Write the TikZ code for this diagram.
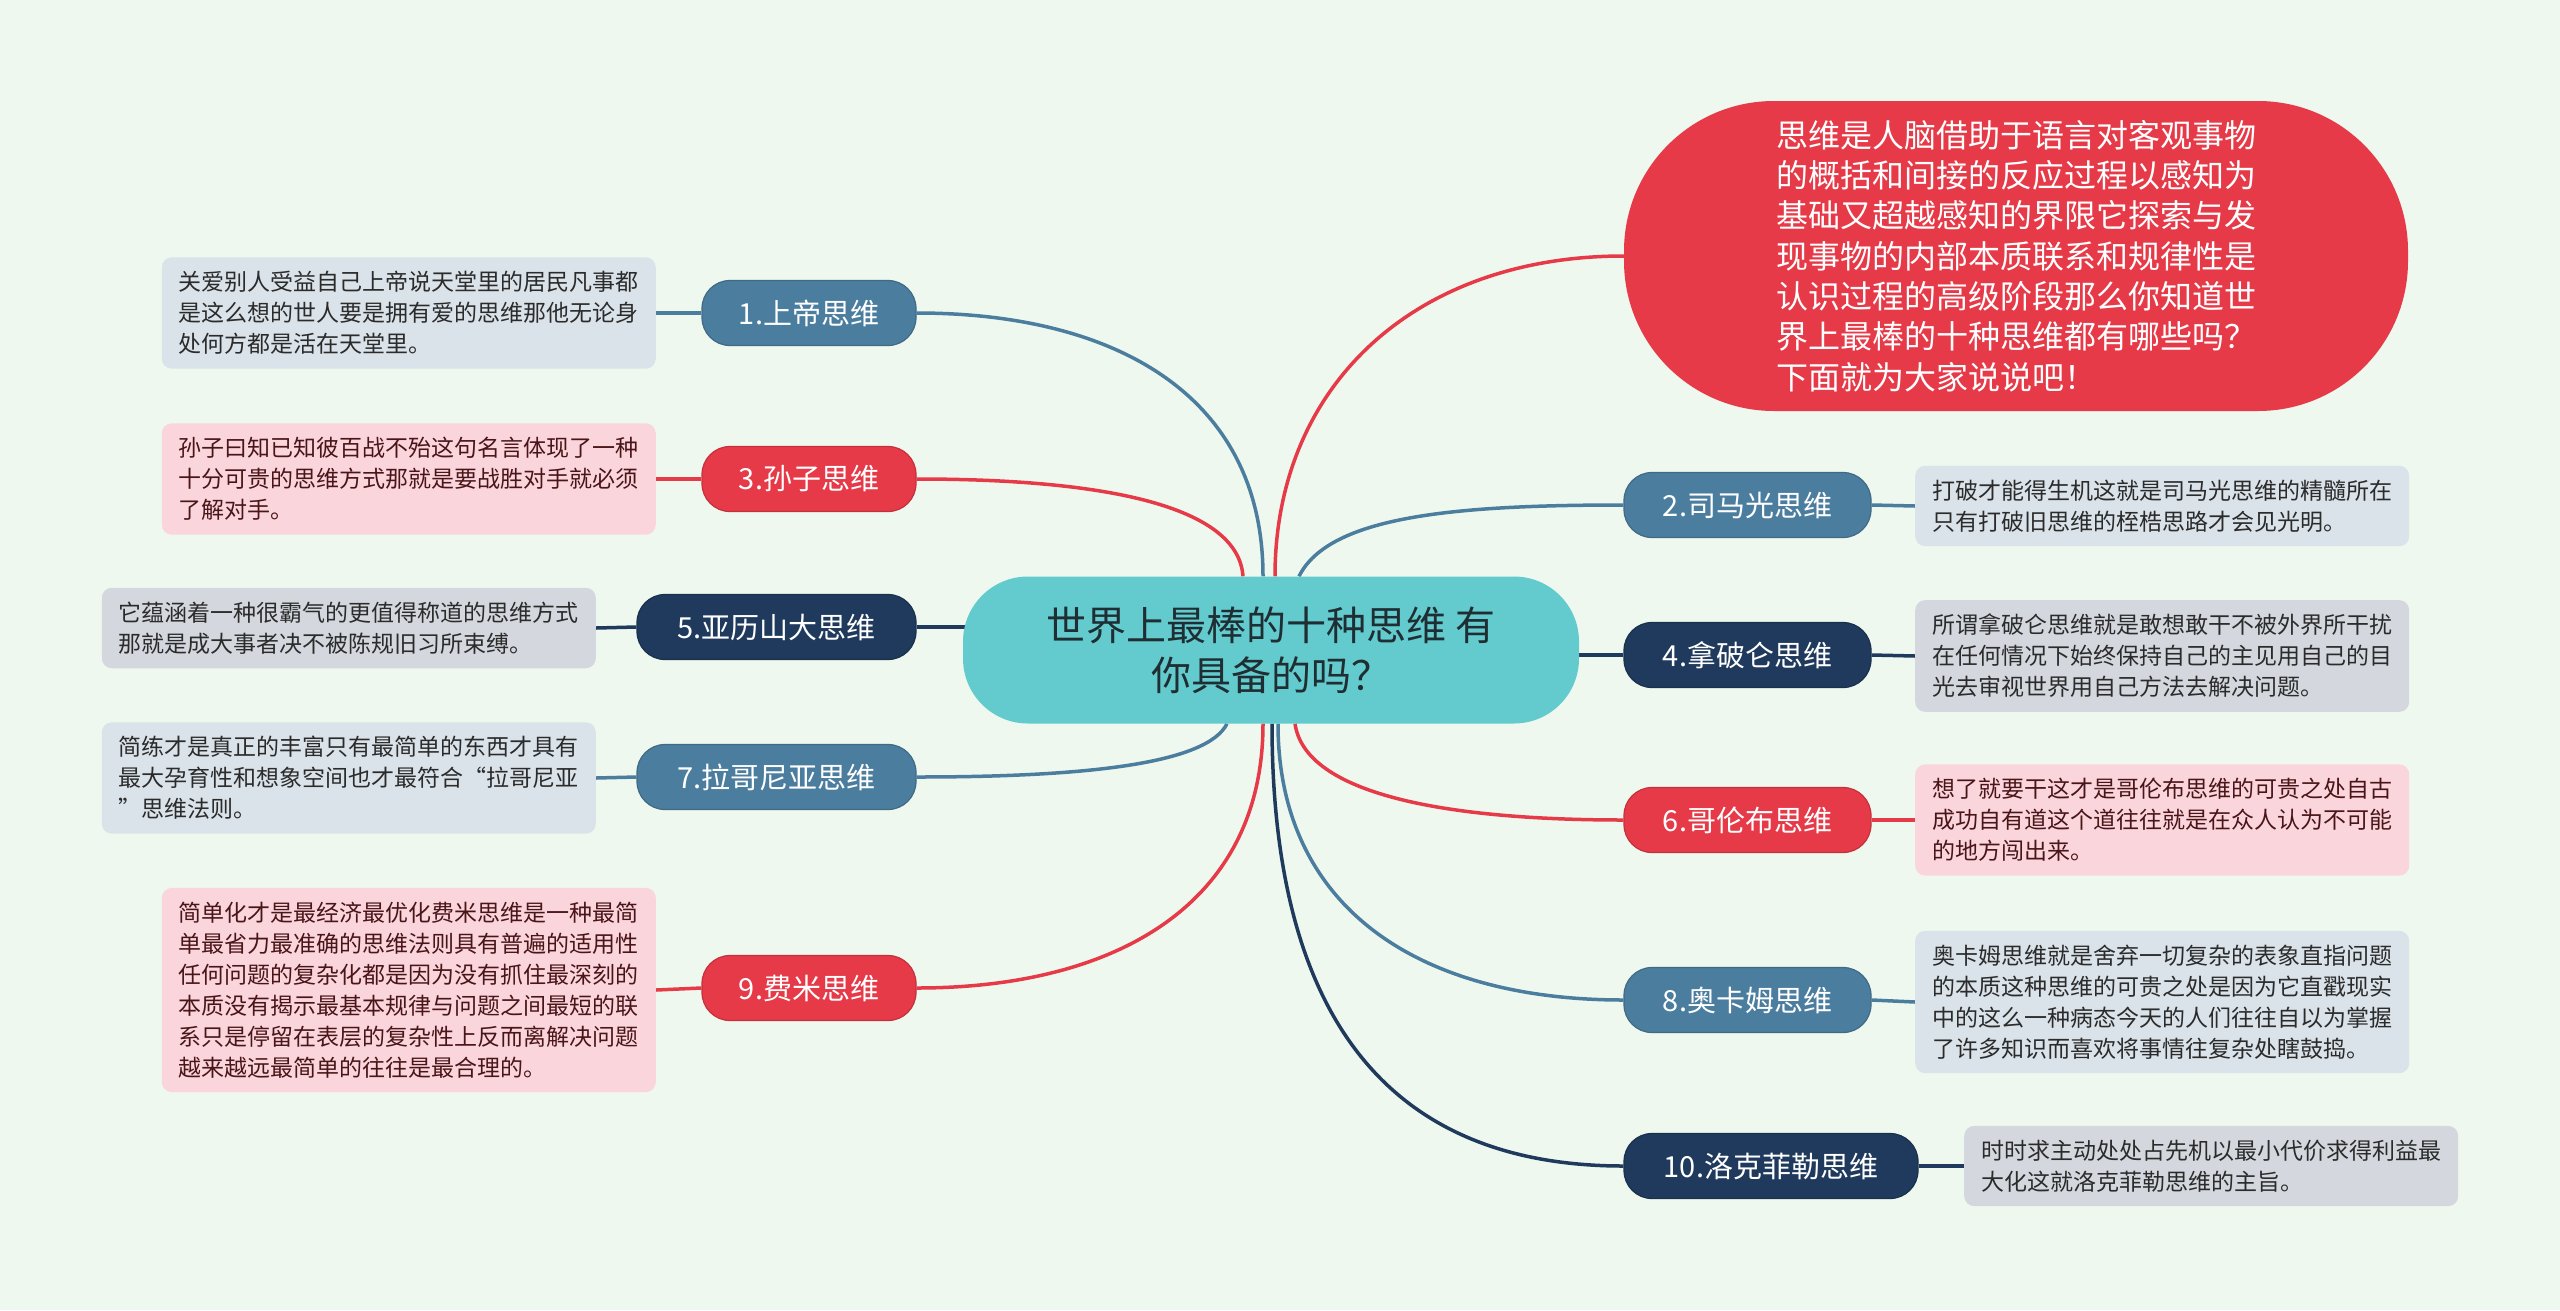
\documentclass[tikz,border=0pt]{standalone}
\usepackage{fontspec}
\setmainfont{Noto Sans CJK SC}
\usetikzlibrary{calc,backgrounds}
\definecolor{bgc}{HTML}{EFF8EE}
\definecolor{sblue}{HTML}{4B7D9E}
\definecolor{cred}{HTML}{E63A48}
\definecolor{cnavy}{HTML}{1F3A5C}
\definecolor{ccteal}{HTML}{63CBCD}
\definecolor{lblue}{HTML}{DAE3EA}
\definecolor{lgray}{HTML}{D4D8DE}
\definecolor{lpink}{HTML}{FAD6DC}
\definecolor{txtdark}{HTML}{2B2B2B}
\definecolor{txtred}{HTML}{4A1518}
\definecolor{ctext}{HTML}{1E2E33}
\tikzset{
  pill/.style={rounded corners=28pt, minimum height=65pt, inner sep=0pt, text=white,
    font=\fontsize{29pt}{34pt}\selectfont, draw=#1!85!black, fill=#1, line width=1.2pt},
  leaf/.style={rounded corners=10pt, fill=#1, minimum width=494pt, inner xsep=12pt,
    inner ysep=14pt, align=left, font=\fontsize{23pt}{31pt}\selectfont},
  conn/.style={line width=3.5pt, draw=#1},
}
\begin{document}
\begin{tikzpicture}[x=1pt,y=-1pt]
\useasboundingbox (0,0) rectangle (2560,1310);
% central
\node[fill=ccteal, rounded corners=65pt, minimum width=616pt, minimum height=147pt,
  align=center, font=\fontsize{40pt}{50pt}\selectfont, text=ctext] (c) at (1271,650)
  {世界上最棒的十种思维 有\\你具备的吗？};
% intro
\node[fill=cred, rounded corners=150pt, minimum width=784pt, minimum height=310pt,
  align=left, text=white, font=\fontsize{32pt}{40.3pt}\selectfont] (t) at (2016,256)
  {思维是人脑借助于语言对客观事物\\的概括和间接的反应过程以感知为\\基础又超越感知的界限它探索与发\\现事物的内部本质联系和规律性是\\认识过程的高级阶段那么你知道世\\界上最棒的十种思维都有哪些吗？\\下面就为大家说说吧！};
% left pills
\node[pill=sblue, minimum width=214pt] (p1) at (809,313) {1.上帝思维};
\node[pill=cred, minimum width=214pt] (p3) at (809,479) {3.孙子思维};
\node[pill=cnavy, minimum width=279pt] (p5) at (776.5,627) {5.亚历山大思维};
\node[pill=sblue, minimum width=279pt] (p7) at (776.5,777) {7.拉哥尼亚思维};
\node[pill=cred, minimum width=214pt] (p9) at (809,988) {9.费米思维};
% right pills
\node[pill=sblue, minimum width=247pt] (p2) at (1747.5,505) {2.司马光思维};
\node[pill=cnavy, minimum width=247pt] (p4) at (1747.5,655) {4.拿破仑思维};
\node[pill=cred, minimum width=247pt] (p6) at (1747.5,820) {6.哥伦布思维};
\node[pill=sblue, minimum width=247pt] (p8) at (1747.5,1000) {8.奥卡姆思维};
\node[pill=cnavy, minimum width=294pt] (p10) at (1771,1166) {10.洛克菲勒思维};
% left leaves
\node[leaf=lblue, text=txtdark, anchor=east] (l1) at (656,313)
  {关爱别人受益自己上帝说天堂里的居民凡事都\\是这么想的世人要是拥有爱的思维那他无论身\\处何方都是活在天堂里。};
\node[leaf=lpink, text=txtred, anchor=east] (l3) at (656,479)
  {孙子曰知已知彼百战不殆这句名言体现了一种\\十分可贵的思维方式那就是要战胜对手就必须\\了解对手。};
\node[leaf=lgray, text=txtdark, anchor=east] (l5) at (596,628)
  {它蕴涵着一种很霸气的更值得称道的思维方式\\那就是成大事者决不被陈规旧习所束缚。};
\node[leaf=lblue, text=txtdark, anchor=east] (l7) at (596,778)
  {简练才是真正的丰富只有最简单的东西才具有\\最大孕育性和想象空间也才最符合“拉哥尼亚\\”思维法则。};
\node[leaf=lpink, text=txtred, anchor=east] (l9) at (656,990)
  {简单化才是最经济最优化费米思维是一种最简\\单最省力最准确的思维法则具有普遍的适用性\\任何问题的复杂化都是因为没有抓住最深刻的\\本质没有揭示最基本规律与问题之间最短的联\\系只是停留在表层的复杂性上反而离解决问题\\越来越远最简单的往往是最合理的。};
% right leaves
\node[leaf=lblue, text=txtdark, anchor=west] (r2) at (1915,506)
  {打破才能得生机这就是司马光思维的精髓所在\\只有打破旧思维的桎梏思路才会见光明。};
\node[leaf=lgray, text=txtdark, anchor=west] (r4) at (1915,656)
  {所谓拿破仑思维就是敢想敢干不被外界所干扰\\在任何情况下始终保持自己的主见用自己的目\\光去审视世界用自己方法去解决问题。};
\node[leaf=lpink, text=txtred, anchor=west] (r6) at (1915,820)
  {想了就要干这才是哥伦布思维的可贵之处自古\\成功自有道这个道往往就是在众人认为不可能\\的地方闯出来。};
\node[leaf=lblue, text=txtdark, anchor=west] (r8) at (1915,1002)
  {奥卡姆思维就是舍弃一切复杂的表象直指问题\\的本质这种思维的可贵之处是因为它直戳现实\\中的这么一种病态今天的人们往往自以为掌握\\了许多知识而喜欢将事情往复杂处瞎鼓捣。};
\node[leaf=lgray, text=txtdark, anchor=west] (r10) at (1964,1166)
  {时时求主动处处占先机以最小代价求得利益最\\大化这就洛克菲勒思维的主旨。};
% connectors
\begin{scope}[on background layer]
\fill[bgc] (0,0) rectangle (2560,1310);
\coordinate (s3) at ($(c.north)+(-28,0)$);
\coordinate (s1) at ($(c.north)+(-8,0)$);
\coordinate (st) at ($(c.north)+(4,0)$);
\coordinate (s2) at ($(c.north)+(28,0)$);
\coordinate (s7) at ($(c.south)+(-44,0)$);
\coordinate (s9) at ($(c.south)+(-8,0)$);
\coordinate (s10) at ($(c.south)+(1,0)$);
\coordinate (s8) at ($(c.south)+(7,0)$);
\coordinate (s6) at ($(c.south)+(24,0)$);
\draw[conn=cred] (s3) .. controls ($(s3)+(-5,-70)$) and ($(p3.east)+(190,0)$) .. (p3.east);
\draw[conn=sblue] (s1) .. controls ($(s1)+(0,-180)$) and ($(p1.east)+(200,0)$) .. (p1.east);
\draw[conn=cred] (st) .. controls ($(st)+(0,-190)$) and ($(t.west)+(-210,0)$) .. (t.west);
\draw[conn=sblue] (s2) .. controls ($(s2)+(30,-60)$) and ($(p2.west)+(-170,0)$) .. (p2.west);
\draw[conn=sblue] (s7) .. controls ($(s7)+(-20,40)$) and ($(p7.east)+(170,0)$) .. (p7.east);
\draw[conn=cred] (s9) .. controls ($(s9)+(0,180)$) and ($(p9.east)+(200,0)$) .. (p9.east);
\draw[conn=cnavy] (s10) .. controls ($(s10)+(0,260)$) and ($(p10.west)+(-260,0)$) .. (p10.west);
\draw[conn=sblue] (s8) .. controls ($(s8)+(0,180)$) and ($(p8.west)+(-210,0)$) .. (p8.west);
\draw[conn=cred] (s6) .. controls ($(s6)+(10,70)$) and ($(p6.west)+(-180,0)$) .. (p6.west);
\draw[conn=cnavy] (p5.east) -- (p5.east -| c.center);
\draw[conn=cnavy] (p4.west) -- (p4.west -| c.center);
\draw[conn=sblue] (p1.west) -- (l1.east);
\draw[conn=cred] (p3.west) -- (l3.east);
\draw[conn=cnavy] (p5.west) -- (l5.east);
\draw[conn=sblue] (p7.west) -- (l7.east);
\draw[conn=cred] (p9.west) -- (l9.east);
\draw[conn=sblue] (p2.east) -- (r2.west);
\draw[conn=cnavy] (p4.east) -- (r4.west);
\draw[conn=cred] (p6.east) -- (r6.west);
\draw[conn=sblue] (p8.east) -- (r8.west);
\draw[conn=cnavy] (p10.east) -- (r10.west);
\end{scope}
\end{tikzpicture}
\end{document}
